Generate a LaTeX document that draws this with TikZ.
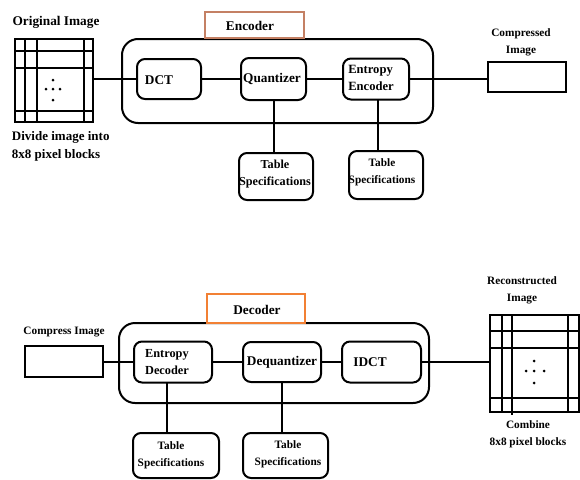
\documentclass[tikz,border=0pt]{standalone}
\usepackage{fontspec}
\setmainfont{Liberation Serif}
\definecolor{encbrown}{RGB}{196,128,100}
\definecolor{decorange}{RGB}{242,128,52}
\begin{document}
\begin{tikzpicture}[x=1pt,y=-1pt,
  every node/.style={inner sep=0pt,outer sep=0pt},
  blk/.style={draw,line width=2pt,rounded corners=8pt},
  outerbox/.style={draw,line width=2pt,rounded corners=16pt},
  plainbox/.style={draw,line width=2pt},
  gridbox/.style={draw,line width=2pt},
  conn/.style={line width=2pt},
  gline/.style={line width=2pt},
  txt/.style={font=\bfseries\fontsize{13.3}{16}\selectfont},
  stxt/.style={font=\bfseries\fontsize{11.3}{17}\selectfont,align=center},
  tstxt/.style={font=\bfseries\fontsize{11.6}{17}\selectfont,align=center},
  dot/.style={fill,circle,minimum size=3pt}
]
\useasboundingbox (0,0) rectangle (580,479);

% ---------------- Encoder ----------------
\node[outerbox,minimum width=311,minimum height=84] (encout) at (277.5,81) {};
\node[draw=encbrown,line width=1.6pt,minimum width=99,minimum height=26] (enclab) at (254.5,25) {};
\node[txt] (enctxt) at (250,26) {Encoder};

\node[gridbox,minimum width=78,minimum height=83] (og) at (54,80.5) {};
\draw[gline] (25,39) -- (25,122) (37,39) -- (37,122) (84,39) -- (84,122)
             (15,51) -- (93,51) (15,68) -- (93,68) (15,111) -- (93,111);
\node[dot] (od1) at (53,80) {};
\node[dot] (od2) at (46,89) {};
\node[dot] (od3) at (53,89) {};
\node[dot] (od4) at (60,89) {};
\node[dot] (od5) at (53,100) {};
\node[txt] (ogtitle) at (56,22) {Original Image};
\node[txt,anchor=west,align=left,font=\bfseries\fontsize{13}{18}\selectfont] (ogcap) at (12,146) {Divide image into\\8x8 pixel blocks};

\node[blk,minimum width=64,minimum height=40] (dct) at (169,79) {};
\node[txt] (dcttxt) at (159,80) {DCT};
\node[blk,minimum width=65,minimum height=42] (quant) at (273.5,79) {};
\node[txt] (quanttxt) at (272,79) {Quantizer};
\node[blk,minimum width=66,minimum height=41] (ent) at (376,79) {};
\node[txt,align=left,font=\bfseries\fontsize{12.6}{16.5}\selectfont] (enttxt) at (371,78) {Entropy\\Encoder};

\node[plainbox,minimum width=78,minimum height=30] (comp) at (527,77) {};
\node[stxt] (comptxt) at (521,42) {Compressed\\Image};

\node[blk,minimum width=74,minimum height=47] (ts1) at (276,176.5) {};
\node[tstxt,font=\bfseries\fontsize{12.2}{17}\selectfont] (ts1txt) at (275,174) {Table\\Specifications};
\node[blk,minimum width=74,minimum height=48] (ts2) at (386,175) {};
\node[tstxt,font=\bfseries\fontsize{11.3}{17}\selectfont] (ts2txt) at (382,172) {Table\\Specifications};

\draw[conn] (og.east |- dct.west) -- (dct.west);
\draw[conn] (dct.east) -- (quant.west);
\draw[conn] (quant.east) -- (ent.west);
\draw[conn] (ent.east) -- (comp.west |- ent.east);
\draw[conn] (quant.south) -- (quant.south |- ts1.north);
\draw[conn] ([xshift=2pt]ent.south) -- ([xshift=2pt]ent.south |- ts2.north);

% ---------------- Decoder ----------------
\node[outerbox,minimum width=310,minimum height=80] (decout) at (274,363) {};
\node[draw=decorange,line width=1.8pt,minimum width=98,minimum height=29] (declab) at (256,308.5) {};
\node[txt] (dectxt) at (257,310) {Decoder};

\node[txt,font=\bfseries\fontsize{11.3}{14}\selectfont] (citxt) at (64,332) {Compress Image};
\node[plainbox,minimum width=78,minimum height=31] (ci) at (64,361) {};

\node[blk,minimum width=78,minimum height=41] (entd) at (173,362) {};
\node[txt,align=left,font=\bfseries\fontsize{12.3}{16.5}\selectfont] (entdtxt) at (167,362) {Entropy\\Decoder};
\node[blk,minimum width=78,minimum height=40] (deq) at (282,362) {};
\node[txt] (deqtxt) at (282,362) {Dequantizer};
\node[blk,minimum width=79,minimum height=41] (idct) at (381.5,362) {};
\node[txt] (idcttxt) at (370,362) {IDCT};

\node[gridbox,minimum width=89,minimum height=97] (rg) at (534.5,363.5) {};
\draw[gline] (502,315) -- (502,412) (512,315) -- (512,415) (568,315) -- (568,412)
             (490,331) -- (579,331) (490,348) -- (579,348) (490,398) -- (579,398);
\node[dot] (rd1) at (534,361) {};
\node[dot] (rd2) at (526,371) {};
\node[dot] (rd3) at (534,371) {};
\node[dot] (rd4) at (544,371) {};
\node[dot] (rd5) at (534,383) {};
\node[stxt] (rgtitle) at (522,290) {Reconstructed\\Image};
\node[stxt] (rgcap) at (528,434.5) {Combine\\8x8 pixel blocks};

\node[blk,minimum width=86,minimum height=45] (ts3) at (176,455.5) {};
\node[tstxt,font=\bfseries\fontsize{11.3}{17}\selectfont] (ts3txt) at (171,455) {Table\\Specifications};
\node[blk,minimum width=85,minimum height=45] (ts4) at (285.5,455.5) {};
\node[tstxt,font=\bfseries\fontsize{11.3}{17}\selectfont] (ts4txt) at (288,454.5) {Table\\Specifications};

\draw[conn] (ci.east |- entd.west) -- (entd.west);
\draw[conn] (entd.east) -- (deq.west);
\draw[conn] (deq.east) -- (idct.west);
\draw[conn] (idct.east) -- (rg.west |- idct.east);
\draw[conn] ([xshift=-6pt]entd.south) -- ([xshift=-6pt]entd.south |- ts3.north);
\draw[conn] (deq.south) -- (deq.south |- ts4.north);
\end{tikzpicture}
\end{document}
